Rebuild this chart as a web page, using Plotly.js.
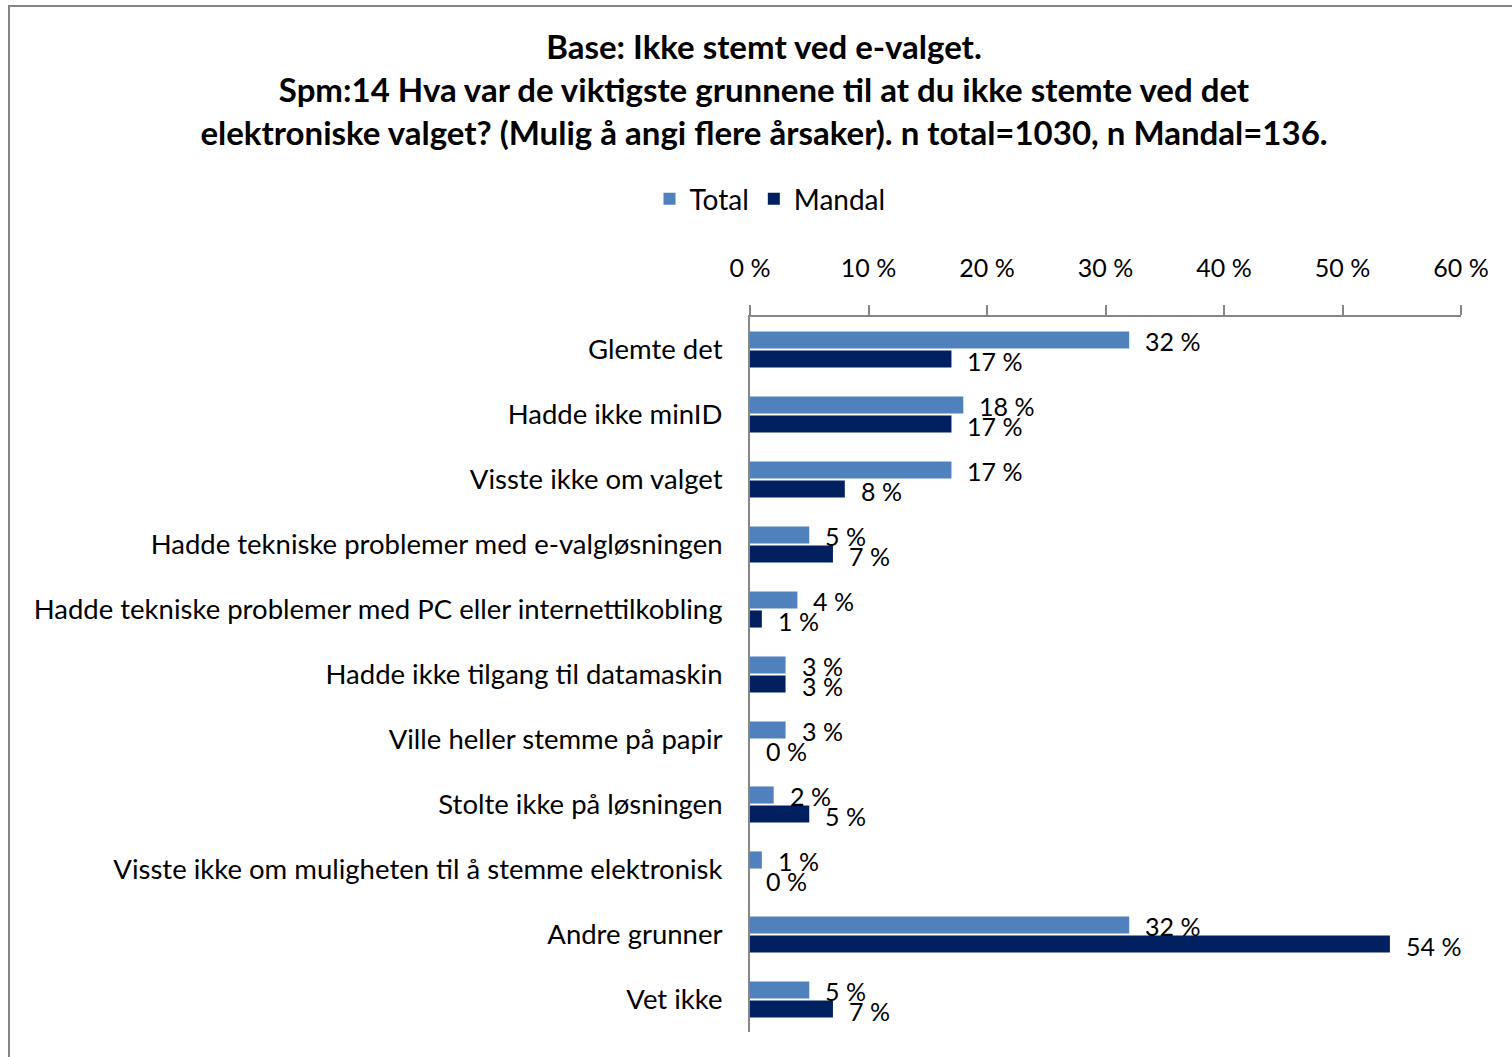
<!DOCTYPE html>
<html>
<head>
<meta charset="utf-8">
<script src="https://cdn.plot.ly/plotly-3.0.1.min.js"></script>
<style>
html,body{margin:0;padding:0;overflow:hidden;background:#fff;}
#frame{position:absolute;left:8px;top:5px;width:1600px;height:1200px;border-left:2px solid #868686;border-top:2px solid #868686;}
#chart{position:absolute;left:0;top:0;width:1512px;height:1057px;}
</style>
</head>
<body>
<div id="frame"></div>
<div id="chart"></div>
<script>
const categories = [
  "Glemte det",
  "Hadde ikke minID",
  "Visste ikke om valget",
  "Hadde tekniske problemer med e-valgløsningen",
  "Hadde tekniske problemer med PC eller internettilkobling",
  "Hadde ikke tilgang til datamaskin",
  "Ville heller stemme på papir",
  "Stolte ikke på løsningen",
  "Visste ikke om muligheten til å stemme elektronisk",
  "Andre grunner",
  "Vet ikke"
];
const totalValues  = [32, 18, 17, 5, 4, 3, 3, 2, 1, 32, 5];
const mandalValues = [17, 17, 8, 7, 1, 3, 0, 5, 0, 54, 7];
const seriesNames = ["Total", "Mandal"];
const tickValues = [0, 10, 20, 30, 40, 50, 60];
const tickLabels = ["0 %", "10 %", "20 %", "30 %", "40 %", "50 %", "60 %"];

const FONT = "Lato, 'Open Sans', sans-serif";
const colors = ["#4f81bd", "#002060"];

const traces = [totalValues, mandalValues].map((vals, i) => ({
  type: "bar",
  orientation: "h",
  name: seriesNames[i],
  y: categories,
  x: vals,
  marker: {color: colors[i]},
  hoverinfo: "x+y"
}));

const annotations = [];
[totalValues, mandalValues].forEach((vals, i) => {
  vals.forEach((v, j) => {
    annotations.push({
      x: v, y: categories[j], xref: "x", yref: "y",
      text: v + " %", showarrow: false,
      xanchor: "left", yanchor: "middle",
      xshift: 14, yshift: i === 0 ? 9 : -11,
      font: {family: FONT, size: 25, color: "#000"}
    });
  });
});

const layout = {
  width: 1512, height: 1057,
  margin: {l: 750, r: 51, t: 317, b: 25},
  paper_bgcolor: "rgba(0,0,0,0)",
  plot_bgcolor: "rgba(0,0,0,0)",
  font: {family: FONT, size: 24, color: "#000"},
  title: {
    text: "<b>Base: Ikke stemt ved e-valget.<br>Spm:14 Hva var de viktigste grunnene til at du ikke stemte ved det<br>elektroniske valget? (Mulig å angi flere årsaker). n total=1030, n Mandal=136.</b>",
    font: {family: FONT, size: 33, color: "#000"},
    x: 764/1512, xanchor: "center", xref: "container",
    y: 1 - 59/1057, yanchor: "top", yref: "container"
  },
  barmode: "group",
  bargap: 0.415,
  bargroupgap: 0.1,
  showlegend: true,
  legend: {
    orientation: "h",
    x: (770-750)/711, xanchor: "center", xref: "paper",
    y: 1 - 199/1057, yanchor: "middle", yref: "container",
    font: {family: FONT, size: 28, color: "#000"},
    itemwidth: 30, tracegroupgap: 0
  },
  xaxis: {
    side: "top",
    range: [0, 60],
    tickvals: tickValues,
    ticktext: tickLabels,
    ticks: "outside", ticklen: 10, tickwidth: 2, tickcolor: "#868686",
    showline: true, linecolor: "#868686", linewidth: 2,
    showgrid: false, zeroline: false,
    ticklabelstandoff: 18,
    tickfont: {family: FONT, size: 25, color: "#000"},
    fixedrange: true
  },
  yaxis: {
    type: "category",
    autorange: "reversed",
    showline: true, linecolor: "#868686", linewidth: 2,
    ticks: "", showgrid: false, zeroline: false,
    ticklabelstandoff: 20,
    tickfont: {family: FONT, size: 27.5, color: "#000"},
    fixedrange: true
  },
  annotations: annotations
};

Plotly.newPlot("chart", traces, layout, {displayModeBar: false, staticPlot: true});
</script>
</body>
</html>
